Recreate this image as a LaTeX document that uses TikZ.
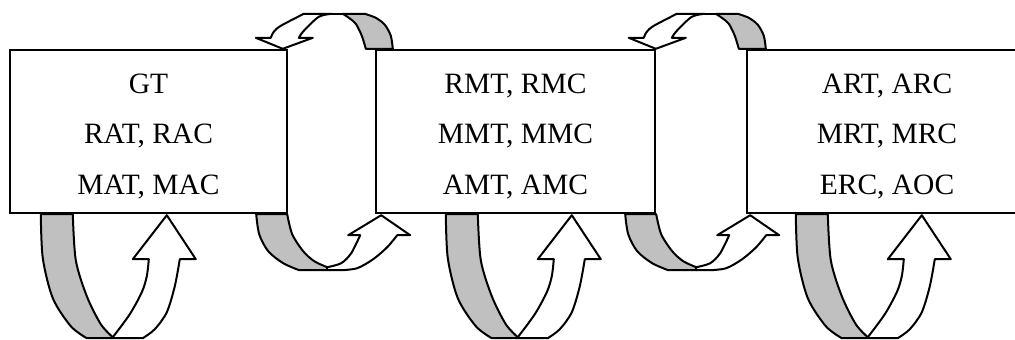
\documentclass[tikz,border=0pt]{standalone}
\usepackage{fontspec}
\setmainfont{Liberation Serif}
\usetikzlibrary{calc}
\definecolor{shade}{RGB}{192,192,192}
\tikzset{
  arrowline/.style={draw=black, line width=2bp, line join=round},
  back/.style={arrowline, fill=shade},
  front/.style={arrowline, fill=white},
  bigup/.pic={
    \draw[back] plot[smooth] coordinates {(0,0) (2,44) (12,84) (30,112) (46,124)}
      -- (72,124) -- plot[smooth] coordinates {(72,123) (60,110) (46,82) (35,46) (32,0)} -- cycle;
    \draw[front] plot[smooth] coordinates {(72,123) (89,100) (101,78) (106,62) (108,45)}
      -- (92,45) -- (126,1) -- (155,45)
      -- plot[smooth] coordinates {(139,45) (134,72) (126,98) (114,115) (102,124)}
      -- (72,124) -- cycle;
  },
  smallup/.pic={
    \draw[back] plot[smooth] coordinates {(0,0) (3,20) (12,37) (27,49) (43,56)}
      -- (71,56) -- plot[smooth] coordinates {(71,53) (58,47) (47,37) (36,20) (31,0)} -- cycle;
    \draw[front] plot[smooth] coordinates {(71,53) (85,49) (95,39) (104,21)}
      -- (92,21) -- (125,1) -- (154,21)
      -- plot[smooth] coordinates {(141,21) (131,33) (117,45) (101,54) (85,56)}
      -- (71,56) -- cycle;
  },
  topdown/.pic={
    \draw[back] plot[smooth] coordinates {(0,0) (-2,-13) (-8,-24) (-17,-31) (-28,-35)}
      -- (-50,-35) -- plot[smooth] coordinates {(-50,-35) (-44,-31) (-37,-25) (-31,-13) (-27,0)} -- cycle;
    \draw[front] plot[smooth] coordinates {(-89,-35) (-112,-23) (-119,-17) (-122,-11)}
      -- (-137,-11) -- (-110,0) -- (-80,-11)
      -- plot[smooth] coordinates {(-94,-11) (-89,-18) (-74,-32) (-61,-35)} -- cycle;
    \draw[arrowline] (-62,-35) -- (-49,-35);
  }
}
\begin{document}
\begin{tikzpicture}[x=1bp,y=-1bp,
  box/.style={draw, line width=2.4bp, fill=white, minimum width=277bp, minimum height=163bp,
    inner sep=0pt, align=center, font=\fontsize{29.5bp}{50.5bp}\selectfont}]
\useasboundingbox (0,0) rectangle (1015,339);
\clip (0,0) rectangle (1015,339);
\node[box] (b1) at (148.5,131.5) {\rule{0pt}{29bp}GT\\RAT, RAC\\MAT, MAC};
\node[box, minimum width=279bp] (b2) at (515.5,131.5) {\rule{0pt}{29bp}RMT, RMC\\MMT, MMC\\AMT, AMC};
\node[box, minimum width=280bp] (b3) at (887,131.5) {\rule{0pt}{29bp}ART, ARC\\MRT, MRC\\ERC, AOC};
\pic at ($(b1.south west)+(32,0)$) {bigup};
\pic at ($(b2.south west)+(71,0)$) {bigup};
\pic at ($(b3.south west)+(50,0)$) {bigup};
\pic at ($(b1.south east)+(-32,0)$) {smallup};
\pic at ($(b2.south east)+(-31,0)$) {smallup};
\pic at ($(b2.north west)+(18,0)$) {topdown};
\pic at ($(b3.north west)+(20,0)$) {topdown};
\end{tikzpicture}
\end{document}
